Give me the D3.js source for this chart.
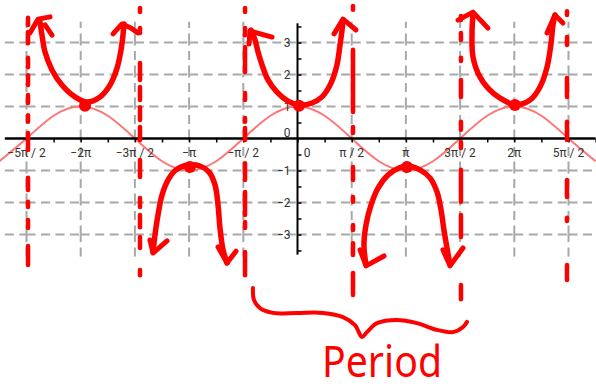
<!DOCTYPE html>
<html>
<head>
<meta charset="utf-8">
<script src="https://cdn.jsdelivr.net/npm/d3@7/dist/d3.min.js"></script>
<style>
  html, body { margin: 0; padding: 0; background: #fff; }
  svg { display: block; }
</style>
</head>
<body>
<svg id="chart" width="596" height="391"></svg>
<script>
// x values are in multiples of π, y values in plain units.

// Axis ticks and labels
const xTickValues = [-2.5, -2, -1.5, -1, -0.5, 0, 0.5, 1, 1.5, 2, 2.5];
const xTickLabels = ["−5π / 2", "−2π", "−3π / 2", "−π", "−π / 2", "0", "π / 2", "π", "3π / 2", "2π", "5π / 2"];
const xMinorTicks = [-2.5, -2.25, -2, -1.75, -1.5, -1.25, -1, -0.75, -0.5, -0.25, 0,
                     0.25, 0.5, 0.75, 1, 1.25, 1.5, 1.75, 2, 2.25, 2.5, 2.75];
const yTickValues = [-3, -2, -1, 0, 1, 2, 3];
const yTickLabels = ["−3", "−2", "−1", "0", "1", "2", "3"];
const yMinorTicks = [-3.5, -3, -2.5, -2, -1.5, -1, -0.5, 0.5, 1, 1.5, 2, 2.5, 3, 3.5];

// y = cos x, sampled every π/4
const cosX = [-2.75, -2.5, -2.25, -2, -1.75, -1.5, -1.25, -1, -0.75, -0.5, -0.25, 0,
              0.25, 0.5, 0.75, 1, 1.25, 1.5, 1.75, 2, 2.25, 2.5, 2.75];
const cosY = [-0.71, 0, 0.71, 1, 0.71, 0, -0.71, -1, -0.71, 0, 0.71, 1,
              0.71, 0, -0.71, -1, -0.71, 0, 0.71, 1, 0.71, 0, -0.71];

// Hand-sketched secant branches [x, y]
const branchA = [[-2.375, 3.64], [-2.357, 3.23], [-2.329, 2.70], [-2.265, 2.14], [-2.173, 1.67],
                 [-2.053, 1.30], [-1.942, 1.14], [-1.822, 1.30], [-1.730, 1.67], [-1.665, 2.20],
                 [-1.628, 2.77], [-1.610, 3.23], [-1.601, 3.58]];
const branchB = [[-1.333, -3.55], [-1.315, -3.02], [-1.287, -2.39], [-1.250, -1.77], [-1.195, -1.30],
                 [-1.121, -0.98], [-1.010, -0.83], [-0.899, -0.86], [-0.816, -1.05], [-0.761, -1.45],
                 [-0.733, -2.08], [-0.715, -2.80], [-0.687, -3.48], [-0.650, -3.89]];
const branchC = [[-0.429, 3.39], [-0.392, 3.08], [-0.364, 2.70], [-0.327, 2.30], [-0.272, 1.83],
                 [-0.189, 1.45], [-0.088, 1.17], [0.014, 1.05], [0.134, 1.11], [0.226, 1.30],
                 [0.309, 1.73], [0.364, 2.30], [0.392, 2.92], [0.411, 3.39], [0.420, 3.70]];
const branchD = [[0.632, -3.95], [0.613, -3.33], [0.632, -2.70], [0.678, -2.08], [0.743, -1.55],
                 [0.835, -1.14], [0.936, -0.92], [1.019, -0.86], [1.130, -0.98], [1.222, -1.23],
                 [1.287, -1.67], [1.324, -2.23], [1.351, -2.86], [1.379, -3.42], [1.407, -3.95]];
const branchE = [[1.619, 3.89], [1.610, 3.30], [1.619, 2.55], [1.684, 1.92], [1.804, 1.42],
                 [1.933, 1.14], [2.006, 1.05], [2.145, 1.20], [2.237, 1.61], [2.302, 2.23],
                 [2.339, 2.98], [2.357, 3.55], [2.375, 3.86]];

// Arrow heads at the ends of the branches
const arrowHeads = [
  [[-2.468, 3.30], [-2.394, 3.73], [-2.283, 3.80]],
  [[-2.329, 3.55], [-2.265, 3.23]],
  [[-1.702, 3.27], [-1.619, 3.58], [-1.536, 3.45], [-1.471, 3.30]],
  [[-1.361, -3.17], [-1.333, -3.58], [-1.204, -3.20]],
  [[-0.733, -3.39], [-0.650, -3.89], [-0.567, -3.52]],
  [[-0.447, 2.95], [-0.438, 3.36], [-0.235, 3.17]],
  [[0.337, 3.27], [0.420, 3.73], [0.540, 3.39]],
  [[0.577, -3.48], [0.632, -3.98], [0.798, -3.67]],
  [[1.342, -3.48], [1.407, -3.98], [1.527, -3.42]],
  [[1.481, 3.70], [1.619, 3.95], [1.757, 3.45]],
  [[2.302, 3.30], [2.375, 3.86], [2.449, 3.61]]
];

// Turning points of the branches, touching y = ±1
const vertices = [[-1.960, 1.02], [-0.992, -0.89], [0.014, 1.02], [1.010, -0.89], [2.006, 1.05]];

// Asymptotes x = ±π/2, ±3π/2, ±5π/2, drawn as hand dashes [y top, y bottom]
const asymptoteX = [-2.486, -1.453, -0.484, 0.512, 1.508, 2.486];
const asymptoteDashes = [
  [[3.77, 3.55], [3.33, 2.98], [2.52, 2.23], [1.98, 1.67], [1.36, 1.11], [0.73, 0.52],
   [0.17, -0.36], [-1.23, -1.61], [-1.98, -2.14], [-2.55, -2.80], [-3.36, -3.95]],
  [[4.08, 3.95], [3.45, 3.30], [2.36, 1.83], [1.61, 1.20], [0.98, 0.58], [0.36, -0.05],
   [-0.67, -1.20], [-1.86, -2.14], [-2.39, -2.77], [-3.08, -3.42], [-4.11, -4.27]],
  [[4.08, 3.95], [3.45, 3.23], [2.86, 2.08], [1.42, 1.20], [0.64, 0.52], [0.33, -0.05],
   [-0.77, -1.30], [-1.67, -2.39], [-2.61, -2.80], [-3.55, -4.27]],
  [[4.14, 4.02], [2.77, 0.83], [0.36, 0.17], [-0.89, -1.30], [-1.83, -1.98], [-2.70, -2.86],
   [-3.27, -3.64], [-4.20, -4.89]],
  [[3.83, 3.70], [3.30, 3.08], [2.52, 2.42], [1.83, 1.30], [0.52, 0.27], [-0.11, -0.30],
   [-0.98, -1.98], [-2.39, -3.08], [-4.58, -5.02]],
  [[3.98, 3.86], [3.17, 2.92], [1.89, 1.30], [0.52, -0.05], [-1.30, -1.83], [-2.48, -2.58],
   [-3.95, -4.42]]
];

// Brace spanning one period, from x = -π/2 to x = 3π/2
const brace = [[-0.411, -4.67], [-0.401, -5.05], [-0.346, -5.30], [-0.226, -5.45], [-0.005, -5.45],
               [0.235, -5.45], [0.420, -5.58], [0.530, -5.83], [0.595, -6.20], [0.641, -6.05],
               [0.733, -5.77], [0.918, -5.67], [1.102, -5.77], [1.287, -5.98], [1.435, -6.05],
               [1.527, -5.89], [1.564, -5.73]];
const braceLabel = "Period";

// ---------------------------------------------------------------
const svg = d3.select("#chart");
const x = d3.scaleLinear().domain([-2.5, 2.5]).range([26.5, 568.5]);
const y = d3.scaleLinear().domain([-3, 3]).range([234.5, 42.5]);

const xLeft = -2.7, xRight = 2.75;
const gridTop = 3.65, gridBottom = -3.69;
const RED = "#ff0000";

// Dashed grid, each cell edge dashed from its own corner
const grid = svg.append("g")
  .attr("stroke", "#a8a8a8")
  .attr("stroke-width", 2)
  .attr("stroke-dasharray", "9,5.5")
  .attr("fill", "none");

const xEdges = [xLeft].concat(xTickValues, [xRight]);
const yEdges = [gridBottom].concat(yTickValues, [gridTop]);

yTickValues.filter(v => v !== 0).forEach(v => {
  for (let i = 0; i < xEdges.length - 1; i++) {
    grid.append("line")
      .attr("x1", x(xEdges[i])).attr("x2", x(xEdges[i + 1]))
      .attr("y1", y(v)).attr("y2", y(v));
  }
});
xTickValues.filter(v => v !== 0).forEach(v => {
  for (let j = 0; j < yEdges.length - 1; j++) {
    grid.append("line")
      .attr("x1", x(v)).attr("x2", x(v))
      .attr("y1", y(yEdges[j])).attr("y2", y(yEdges[j + 1]));
  }
});

// y = cos x
const cosPts = cosX.map((v, i) => [v, cosY[i]]);
svg.append("path")
  .datum(cosPts)
  .attr("fill", "none")
  .attr("stroke", "#ff7575")
  .attr("stroke-width", 2)
  .attr("d", d3.line().x(d => x(d[0])).y(d => y(d[1])).curve(d3.curveNatural));

// Axes
const xAxisG = svg.append("g")
  .attr("transform", `translate(0,${y(0)})`)
  .call(d3.axisBottom(x).tickValues(xMinorTicks).tickSize(4).tickSizeOuter(0).tickFormat(""));
xAxisG.select(".domain").remove();
xAxisG.selectAll(".tick line").attr("stroke", "#000").attr("stroke-width", 1.5);
svg.append("line")
  .attr("x1", x(xLeft)).attr("x2", x(xRight))
  .attr("y1", y(0)).attr("y2", y(0))
  .attr("stroke", "#000").attr("stroke-width", 2.6);

const yAxisG = svg.append("g")
  .attr("transform", `translate(${x(0)},0)`)
  .call(d3.axisRight(y).tickValues(yMinorTicks).tickSize(4).tickSizeOuter(0).tickFormat(""));
yAxisG.select(".domain").remove();
yAxisG.selectAll(".tick line").attr("stroke", "#000").attr("stroke-width", 1.5);
svg.append("line")
  .attr("x1", x(0)).attr("x2", x(0))
  .attr("y1", y(3.6)).attr("y2", y(-3.63))
  .attr("stroke", "#000").attr("stroke-width", 2);

// Tick labels
const labelFont = "Roboto, 'Noto Sans', sans-serif";
svg.append("g").selectAll("text")
  .data(xTickValues)
  .join("text")
  .attr("x", d => x(d) + (d === 0 ? 9.5 : 0))
  .attr("y", y(0) + 14)
  .attr("dy", "0.35em")
  .attr("text-anchor", "middle")
  .attr("font-family", labelFont)
  .attr("font-size", 12)
  .attr("fill", "#333")
  .text((d, i) => xTickLabels[i]);

svg.append("g").selectAll("text")
  .data(yTickValues)
  .join("text")
  .attr("x", x(0) - 7)
  .attr("y", d => y(d) - (d === 0 ? 6 : 0))
  .attr("dy", "0.35em")
  .attr("text-anchor", "end")
  .attr("font-family", labelFont)
  .attr("font-size", 12)
  .attr("fill", "#333")
  .text((d, i) => yTickLabels[i]);

// Hand-drawn annotations
const ink = svg.append("g")
  .attr("fill", "none")
  .attr("stroke", RED)
  .attr("stroke-linecap", "round")
  .attr("stroke-linejoin", "round");

asymptoteX.forEach((ax, i) => {
  ink.append("g").selectAll("line")
    .data(asymptoteDashes[i])
    .join("line")
    .attr("x1", x(ax)).attr("x2", x(ax))
    .attr("y1", d => y(d[0])).attr("y2", d => y(d[1]))
    .attr("stroke-width", 4.5);
});

const smooth = d3.line().x(d => x(d[0])).y(d => y(d[1])).curve(d3.curveCatmullRom.alpha(0.5));
const straight = d3.line().x(d => x(d[0])).y(d => y(d[1]));

[branchA, branchB, branchC, branchD, branchE].forEach(b => {
  ink.append("path").attr("d", smooth(b)).attr("stroke-width", 5.5);
});
arrowHeads.forEach(a => {
  ink.append("path").attr("d", straight(a)).attr("stroke-width", 5);
});
svg.append("g").selectAll("circle")
  .data(vertices)
  .join("circle")
  .attr("cx", d => x(d[0])).attr("cy", d => y(d[1]))
  .attr("r", 6)
  .attr("fill", RED);

ink.append("path").attr("d", smooth(brace)).attr("stroke-width", 4);

svg.append("text")
  .attr("x", 322)
  .attr("y", 377)
  .attr("font-family", "'Noto Sans', sans-serif")
  .attr("font-size", 44)
  .attr("textLength", 120)
  .attr("lengthAdjust", "spacingAndGlyphs")
  .attr("fill", RED)
  .text(braceLabel);
</script>
</body>
</html>
